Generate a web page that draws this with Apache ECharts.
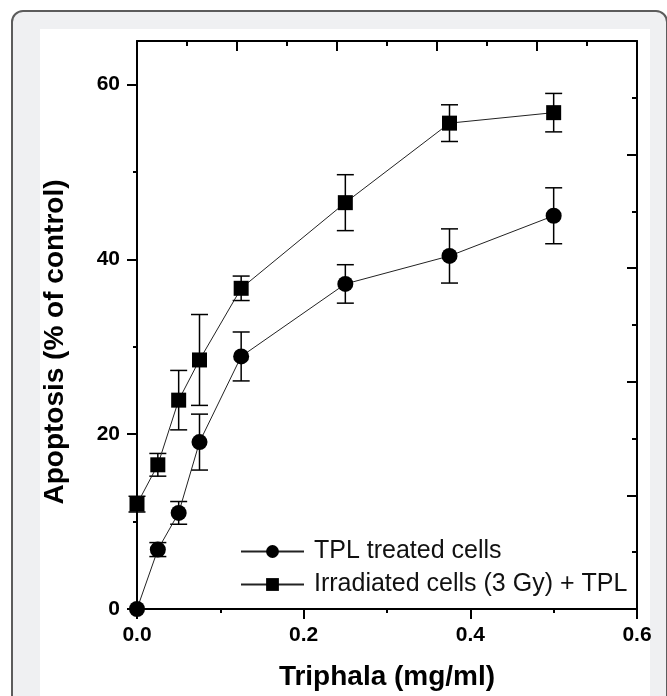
<!DOCTYPE html>
<html>
<head>
<meta charset="utf-8">
<script src="https://cdn.jsdelivr.net/npm/echarts@6/dist/echarts.min.js"></script>
<style>
  html, body { margin: 0; padding: 0; background: #fff; overflow: hidden; }
  .card { position: absolute; left: 11px; top: 10px; width: 653px; height: 720px; border: 2px solid #5c5c5c; border-radius: 12px; background: #eff0f2; }
  .panel { position: absolute; left: 40px; top: 29px; width: 610px; height: 700px; background: #fff; }
  #chart { position: absolute; left: 0; top: 0; width: 667px; height: 696px; }
</style>
</head>
<body>
<div class="card"></div>
<div class="panel"></div>
<div id="chart"></div>
<script>
  // 剂量 (mg/ml)
  const doses = [0, 0.025, 0.05, 0.075, 0.125, 0.25, 0.375, 0.5]
  // TPL 单独处理
  const tplMean = [0, 6.8, 11.0, 19.1, 28.9, 37.2, 40.4, 45.0]
  const tplErr = [0, 0.8, 1.3, 3.2, 2.8, 2.2, 3.1, 3.2]
  // 照射 (3 Gy) + TPL
  const irrMean = [12.0, 16.5, 23.9, 28.5, 36.7, 46.5, 55.6, 56.8]
  const irrErr = [0.9, 1.3, 3.4, 5.2, 1.4, 3.2, 2.1, 2.2]
  // 刻度
  const yTicks = [0, 20, 40, 60]
  const yMinorTicks = [10, 30, 50]

  const seriesNames = ['TPL treated cells', 'Irradiated cells (3 Gy) + TPL']
  const font = "'Liberation Sans', Arial, sans-serif"

  const chart = echarts.init(document.getElementById('chart'))

  // 误差线
  const errorBars = (means, errs, id) => ({
    type: 'custom',
    id: id,
    xAxisIndex: 0,
    yAxisIndex: 0,
    silent: true,
    clip: false,
    z: 1,
    data: doses.map((d, i) => [d, means[i] - errs[i], means[i] + errs[i]]),
    encode: { x: 0, y: [1, 2] },
    renderItem: (params, api) => {
      const x = api.value(0)
      const lo = api.coord([x, api.value(1)])
      const hi = api.coord([x, api.value(2)])
      const hw = 8.5
      const style = { stroke: '#000', lineWidth: 1.5 }
      return {
        type: 'group',
        children: [
          { type: 'line', shape: { x1: lo[0], y1: lo[1], x2: hi[0], y2: hi[1] }, style },
          { type: 'line', shape: { x1: lo[0] - hw, y1: lo[1], x2: lo[0] + hw, y2: lo[1] }, style },
          { type: 'line', shape: { x1: hi[0] - hw, y1: hi[1], x2: hi[0] + hw, y2: hi[1] }, style }
        ]
      }
    }
  })

  const lineSeries = (name, means, symbol, size) => ({
    type: 'line',
    name: name,
    xAxisIndex: 0,
    yAxisIndex: 0,
    data: doses.map((d, i) => [d, means[i]]),
    symbol: symbol,
    symbolSize: size,
    showAllSymbol: true,
    clip: false,
    z: 3,
    itemStyle: { color: '#000' },
    lineStyle: { color: '#222', width: 1 }
  })

  const axisLineStyle = { color: '#000', width: 2 }

  const legendCommon = {
    left: 240,
    orient: 'vertical',
    padding: 0,
    itemWidth: 63,
    itemHeight: 16,
    itemGap: 0,
    selectedMode: false,
    textStyle: { fontFamily: font, fontSize: 25, color: '#111', lineHeight: 25, padding: [0, 0, 0, 5] }
  }

  const option = {
    backgroundColor: 'transparent',
    animation: false,
    grid: { left: 137, top: 41, right: 30, bottom: 87, containLabel: false, outerBoundsMode: 'none' },
    legend: [
      Object.assign({ data: [seriesNames[0]], top: 539 }, legendCommon),
      Object.assign({ data: [seriesNames[1]], top: 572 }, legendCommon)
    ],
    xAxis: [
      {
        type: 'value',
        position: 'bottom',
        min: 0,
        max: 0.6,
        interval: 0.2,
        axisLine: { show: true, onZero: false, lineStyle: axisLineStyle },
        axisTick: { show: true, inside: false, length: 10, lineStyle: axisLineStyle },
        minorTick: { show: true, splitNumber: 2, length: 4, lineStyle: axisLineStyle },
        splitLine: { show: false },
        axisLabel: {
          margin: 16,
          fontFamily: font,
          fontWeight: 'bold',
          fontSize: 21,
          color: '#000',
          formatter: v => v.toFixed(1)
        },
        name: 'Triphala (mg/ml)',
        nameLocation: 'middle',
        nameGap: 54,
        nameTextStyle: { fontFamily: font, fontWeight: 'bold', fontSize: 28, color: '#000' }
      },
      {
        type: 'value',
        position: 'top',
        min: 0,
        max: 0.6,
        interval: 0.12,
        axisLine: { show: true, onZero: false, lineStyle: axisLineStyle },
        axisTick: { show: true, inside: true, length: 10, lineStyle: axisLineStyle },
        minorTick: { show: true, splitNumber: 2, length: 5, lineStyle: axisLineStyle },
        splitLine: { show: false },
        axisLabel: { show: false }
      }
    ],
    yAxis: [
      {
        type: 'value',
        position: 'left',
        min: 0,
        max: 65,
        interval: 20,
        axisLine: { show: true, onZero: false, lineStyle: axisLineStyle },
        axisTick: { show: true, inside: false, length: 10, lineStyle: axisLineStyle, customValues: yTicks },
        splitLine: { show: false },
        axisLabel: {
          customValues: yTicks,
          margin: 17,
          fontFamily: font,
          fontWeight: 'bold',
          fontSize: 21,
          color: '#000'
        },
        name: 'Apoptosis (% of control)',
        nameLocation: 'middle',
        nameRotate: 90,
        nameGap: 68,
        nameTextStyle: { fontFamily: font, fontWeight: 'bold', fontSize: 28, color: '#000', padding: [0, 34, 0, 0] }
      },
      {
        type: 'value',
        position: 'left',
        min: 0,
        max: 65,
        interval: 10,
        axisLine: { show: false },
        axisTick: { show: true, inside: false, length: 4, lineStyle: axisLineStyle, customValues: yMinorTicks },
        splitLine: { show: false },
        axisLabel: { show: false }
      },
      {
        type: 'value',
        position: 'right',
        min: 0,
        max: 65,
        interval: 13,
        axisLine: { show: true, onZero: false, lineStyle: axisLineStyle },
        axisTick: { show: true, inside: true, length: 10, lineStyle: axisLineStyle },
        minorTick: { show: true, splitNumber: 2, length: 5, lineStyle: axisLineStyle },
        splitLine: { show: false },
        axisLabel: { show: false }
      }
    ],
    series: [
      errorBars(tplMean, tplErr, 'tplErr'),
      errorBars(irrMean, irrErr, 'irrErr'),
      lineSeries(seriesNames[0], tplMean, 'circle', 16),
      lineSeries(seriesNames[1], irrMean, 'rect', 15)
    ]
  }

  chart.setOption(option)
</script>
</body>
</html>
